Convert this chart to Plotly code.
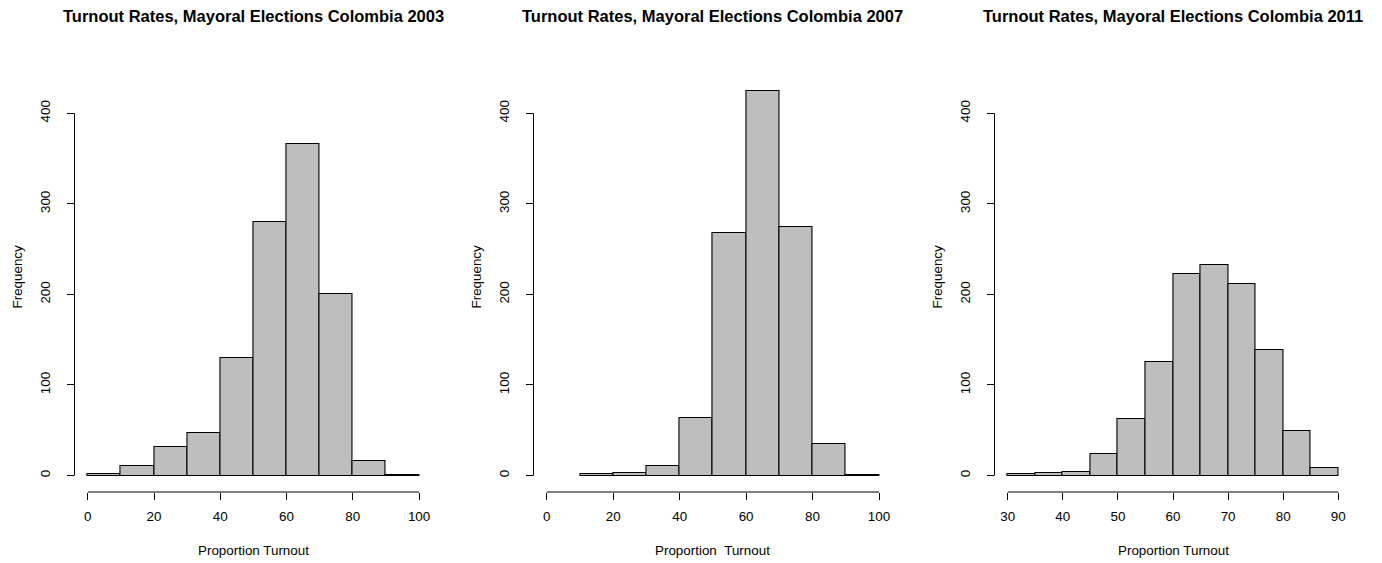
import plotly.graph_objects as go

# The page adds an 8px body margin, so the figure is sized and laid out
# to land on the 1382x563 window with that offset.
OFF = 8
W, H = 1382 - OFF, 563 - OFF

titles = ["Turnout Rates, Mayoral Elections Colombia 2003",
          "Turnout Rates, Mayoral Elections Colombia 2007",
          "Turnout Rates, Mayoral Elections Colombia 2011"]
xlabels = ["Proportion Turnout", "Proportion\u00a0\u00a0Turnout", "Proportion Turnout"]
ylabel = "Frequency"

edges_2003 = [0, 10, 20, 30, 40, 50, 60, 70, 80, 90, 100]
counts_2003 = [2, 10, 32, 47, 130, 280, 366, 200, 16, 1]

edges_2007 = [10, 20, 30, 40, 50, 60, 70, 80, 90, 100]
counts_2007 = [2, 3, 10, 64, 268, 425, 275, 35, 1]

edges_2011 = [30, 35, 40, 45, 50, 55, 60, 65, 70, 75, 80, 85, 90]
counts_2011 = [2, 3, 4, 24, 62, 125, 223, 232, 212, 139, 49, 8]

xticks = [[0, 20, 40, 60, 80, 100], [0, 20, 40, 60, 80, 100], [30, 40, 50, 60, 70, 80, 90]]
yticks = [0, 100, 200, 300, 400]

panels = [(edges_2003, counts_2003), (edges_2007, counts_2007), (edges_2011, counts_2011)]

# layout geometry (window pixels, converted to figure pixels below)
x_pix = [(74.5, 432.3), (533.5, 892.3), (994.5, 1351.5)]
xranges = [[-4, 104], [-4, 104], [27.6, 92.4]]
y_bot_pix, y_top_pix = 492, 61
yrange = [-18.2, 457.8]


def fx(px):
    return (px - OFF) / W


def fy(py):
    return 1 - (py - OFF) / H


font_family = "Liberation Sans, Arial, Helvetica, sans-serif"
FS = 13.4
fig = go.Figure()
layout = dict(
    width=W, height=H, margin=dict(l=0, r=0, t=0, b=0),
    paper_bgcolor="white", plot_bgcolor="white", showlegend=False,
    font=dict(family=font_family, size=FS, color="black"),
    bargap=0,
)
shapes = []
annotations = []
for i, (edges, counts) in enumerate(panels):
    n = i + 1
    xa = "x" if n == 1 else f"x{n}"
    ya = "y" if n == 1 else f"y{n}"
    centers = [(edges[k] + edges[k + 1]) / 2 for k in range(len(counts))]
    widths = [edges[k + 1] - edges[k] for k in range(len(counts))]
    fig.add_trace(go.Bar(
        x=centers, y=counts, width=widths, xaxis=xa, yaxis=ya,
        marker=dict(color="#BEBEBE", line=dict(color="black", width=1.1)),
        hoverinfo="x+y",
    ))
    x0p, x1p = x_pix[i]
    layout[f"xaxis{n if n > 1 else ''}"] = dict(
        domain=[fx(x0p), fx(x1p)], range=xranges[i], anchor=ya,
        showgrid=False, zeroline=False, showline=False,
        tickmode="array", tickvals=xticks[i], ticktext=[str(v) for v in xticks[i]],
        ticks="outside", ticklen=7, tickwidth=1, tickcolor="black",
        ticklabelstandoff=5, tickfont=dict(size=FS),
        fixedrange=True,
    )
    layout[f"yaxis{n if n > 1 else ''}"] = dict(
        domain=[fy(y_bot_pix), fy(y_top_pix)], range=yrange, anchor=xa,
        showgrid=False, zeroline=False, showline=False,
        tickmode="array", tickvals=yticks, ticktext=[str(v) for v in yticks],
        ticks="outside", ticklen=7, tickwidth=1, tickcolor="black",
        tickangle=-90, ticklabelstandoff=11, tickfont=dict(size=FS),
        fixedrange=True,
    )
    # detached R-style axis lines spanning the tick range
    shapes.append(dict(type="line", xref=xa, yref=f"{ya} domain",
                       x0=xticks[i][0], x1=xticks[i][-1], y0=0, y1=0,
                       line=dict(color="black", width=1)))
    shapes.append(dict(type="line", xref=f"{xa} domain", yref=ya,
                       x0=0, x1=0, y0=yticks[0], y1=yticks[-1],
                       line=dict(color="black", width=1)))
    # titles and axis labels
    cx = fx((x0p + x1p) / 2)
    annotations.append(dict(text=f"<b>{titles[i]}</b>", x=cx, y=fy(16.5),
                            xref="paper", yref="paper", showarrow=False,
                            xanchor="center", yanchor="middle",
                            font=dict(size=16.5, family=font_family)))
    annotations.append(dict(text=xlabels[i], x=cx, y=fy(550.5),
                            xref="paper", yref="paper", showarrow=False,
                            xanchor="center", yanchor="middle",
                            font=dict(size=FS, family=font_family)))
    annotations.append(dict(text=ylabel, x=fx(x0p - 57.5),
                            y=fy((y_bot_pix + y_top_pix) / 2),
                            xref="paper", yref="paper", showarrow=False,
                            xanchor="center", yanchor="middle", textangle=-90,
                            font=dict(size=FS, family=font_family)))

layout["shapes"] = shapes
layout["annotations"] = annotations
fig.update_layout(**layout)
fig.write_html("out.html")
